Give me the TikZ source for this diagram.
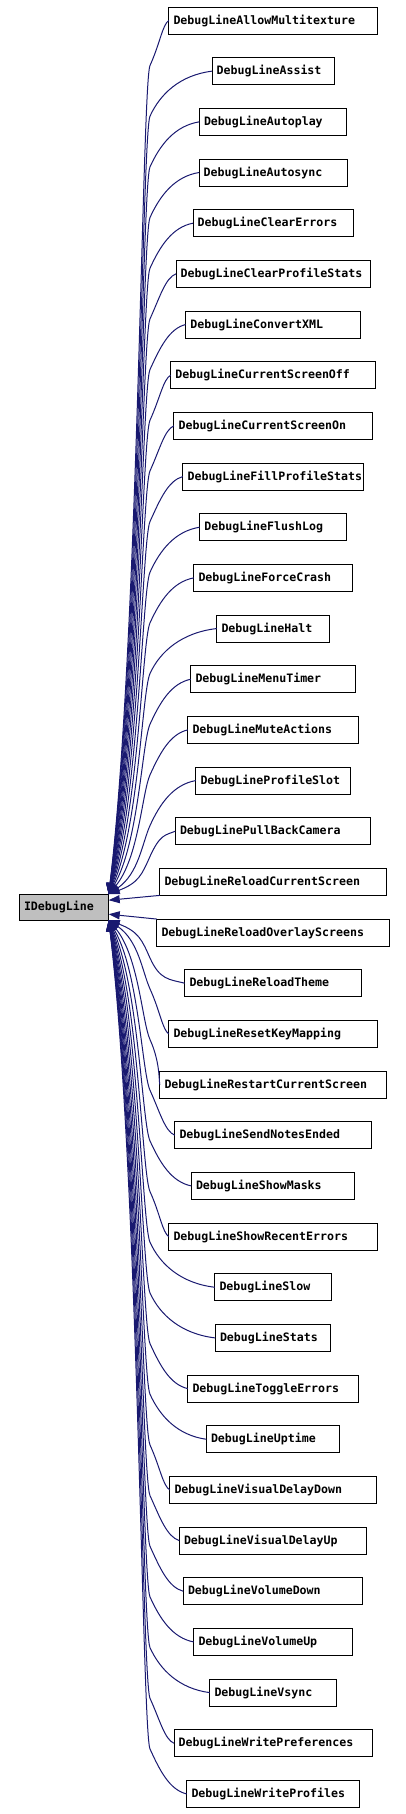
\documentclass[tikz,border=0pt]{standalone}
\usepackage{fontspec}
\newfontfamily\dbfont{DejaVu Sans Mono}[HyphenChar=None]
\usetikzlibrary{arrows.meta,positioning,calc}
\definecolor{dxblue}{HTML}{191970}
\definecolor{dxgray}{HTML}{BFBFBF}

\begin{document}
\begin{tikzpicture}[
  x=1pt, y=1pt,
  cls/.style={draw, line width=0.9pt, fill=white, font=\dbfont\bfseries\fontsize{11.6}{14}\selectfont, text width=#1, align=left, inner xsep=4.7pt, inner ysep=0pt, outer sep=0pt, minimum height=27pt},
  base/.style={cls=#1, fill=dxgray, minimum height=26pt},
  inh/.style={draw=dxblue, line width=1pt, -{Triangle[length=11pt, width=8pt]}}
]
\useasboundingbox (0,0) rectangle (406,-1814);
% base class, halfway between the two middle children
\node[base=80pt] (idl) at (64,-907.2) {IDebugLine};
% derived classes: one column, all centred on x=273
\node[cls=199pt] (d1) at (273,-20.5) {DebugLineAllowMultitexture};
\node[cls=112.6pt, below=23.67pt of d1] (d2) {DebugLineAssist};
\node[cls=138pt, below=23.67pt of d2] (d3) {DebugLineAutoplay};
\node[cls=138.6pt, below=23.67pt of d3] (d4) {DebugLineAutosync};
\node[cls=150.6pt, below=23.67pt of d4] (d5) {DebugLineClearErrors};
\node[cls=184.6pt, below=23.67pt of d5] (d6) {DebugLineClearProfileStats};
\node[cls=165.3pt, below=23.67pt of d6] (d7) {DebugLineConvertXML};
\node[cls=195.3pt, below=23.67pt of d7] (d8) {DebugLineCurrentScreenOff};
\node[cls=188.9pt, below=23.67pt of d8] (d9) {DebugLineCurrentScreenOn};
\node[cls=170.9pt, below=23.67pt of d9] (d10) {DebugLineFillProfileStats};
\node[cls=137.3pt, below=23.67pt of d10] (d11) {DebugLineFlushLog};
\node[cls=149pt, below=23.67pt of d11] (d12) {DebugLineForceCrash};
\node[cls=103pt, below=23.67pt of d12] (d13) {DebugLineHalt};
\node[cls=155pt, below=23.67pt of d13] (d14) {DebugLineMenuTimer};
\node[cls=161pt, below=23.67pt of d14] (d15) {DebugLineMuteActions};
\node[cls=145pt, below=23.67pt of d15] (d16) {DebugLineProfileSlot};
\node[cls=186pt, below=23.67pt of d16] (d17) {DebugLinePullBackCamera};
\node[cls=217pt, below=23.67pt of d17] (d18) {DebugLineReloadCurrentScreen};
\node[cls=223pt, below=23.67pt of d18] (d19) {DebugLineReloadOverlayScreens};
\node[cls=167pt, below=23.67pt of d19] (d20) {DebugLineReloadTheme};
\node[cls=199pt, below=23.67pt of d20] (d21) {DebugLineResetKeyMapping};
\node[cls=217pt, below=23.67pt of d21] (d22) {DebugLineRestartCurrentScreen};
\node[cls=187pt, below=23.67pt of d22] (d23) {DebugLineSendNotesEnded};
\node[cls=154pt, below=23.67pt of d23] (d24) {DebugLineShowMasks};
\node[cls=199pt, below=23.67pt of d24] (d25) {DebugLineShowRecentErrors};
\node[cls=107pt, below=23.67pt of d25] (d26) {DebugLineSlow};
\node[cls=106pt, below=23.67pt of d26] (d27) {DebugLineStats};
\node[cls=161pt, below=23.67pt of d27] (d28) {DebugLineToggleErrors};
\node[cls=124pt, below=23.67pt of d28] (d29) {DebugLineUptime};
\node[cls=197pt, below=23.67pt of d29] (d30) {DebugLineVisualDelayDown};
\node[cls=178pt, below=23.67pt of d30] (d31) {DebugLineVisualDelayUp};
\node[cls=170pt, below=23.67pt of d31] (d32) {DebugLineVolumeDown};
\node[cls=149pt, below=23.67pt of d32] (d33) {DebugLineVolumeUp};
\node[cls=117pt, below=23.67pt of d33] (d34) {DebugLineVsync};
\node[cls=188.6pt, below=23.67pt of d34] (d35) {DebugLineWritePreferences};
\node[cls=163pt, below=23.67pt of d35] (d36) {DebugLineWriteProfiles};
% upper children: short run left, bend down into the bundle, end on the top right corner
\foreach \i in {1,...,17}
  \draw[inh] let \p1=(d\i.west), \p2=(idl.north east), \n1={min(45,0.4*(\y1-\y2))} in
    (\p1) .. controls ({0.4*\x1+95},\y1-4) and (160,\y1-\n1+22) .. (150,\y1-\n1)
    .. controls (142,\y1-\n1-18) and (\x2+30,{\y2+0.3*(\y1-\n1-\y2)}) .. (\p2);
% lower children: the same, mirrored, onto the bottom right corner
\foreach \i in {20,...,36}
  \draw[inh] let \p1=(d\i.west), \p2=(idl.south east), \n1={min(45,0.4*(\y2-\y1))} in
    (\p1) .. controls ({0.4*\x1+95},\y1+4) and (160,\y1+\n1-22) .. (150,\y1+\n1)
    .. controls (142,\y1+\n1+18) and (\x2+30,{\y2+0.3*(\y1+\n1-\y2)}) .. (\p2);
% the two middle ones run almost straight
\draw[inh] (d18.south west) -- ($(idl.east)+(0,7)$);
\draw[inh] (d19.north west) -- ($(idl.east)+(0,-7)$);
\end{tikzpicture}
\end{document}
